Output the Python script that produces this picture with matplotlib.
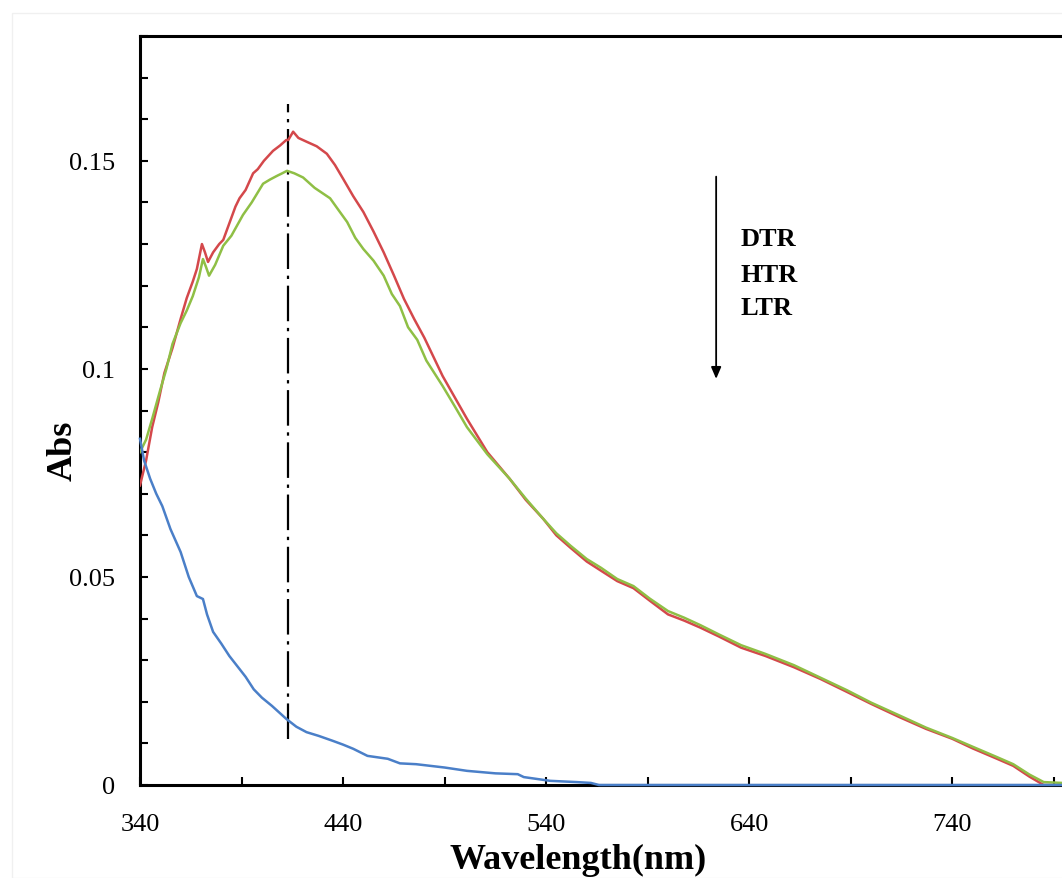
import numpy as np
import matplotlib
matplotlib.use("Agg")
import matplotlib.pyplot as plt
from matplotlib.ticker import MultipleLocator, FuncFormatter
from matplotlib.patches import Rectangle

plt.rcParams["font.family"] = ["Liberation Serif", "DejaVu Serif"]

wl_dtr = [340, 343, 346, 349, 352, 356, 360, 363, 366, 368, 370.5, 372, 373.5, 376, 379,
          381, 384, 387, 389, 392, 395.7, 398, 401, 405.5, 409, 412, 413, 415.4, 418, 422,
          427, 432, 436, 440, 445, 450, 455, 460, 465, 470, 475, 480, 489, 501, 511, 522,
          530, 538.5, 545, 552, 560, 567, 575, 583, 591, 600, 608, 616, 625, 636, 648, 662,
          675, 688, 700, 714, 727, 740, 750, 762, 770, 778, 785, 794]
abs_dtr = [0.072, 0.078, 0.086, 0.092, 0.099, 0.105, 0.112, 0.117, 0.121, 0.124, 0.130,
           0.128, 0.1257, 0.128, 0.130, 0.131, 0.135, 0.139, 0.141, 0.143, 0.147, 0.148,
           0.150, 0.1524, 0.1537, 0.155, 0.155, 0.157, 0.1555, 0.1546, 0.1535, 0.1517,
           0.149, 0.1457, 0.1415, 0.1377, 0.133, 0.128, 0.1225, 0.1168, 0.112, 0.1075,
           0.0983, 0.088, 0.080, 0.0736, 0.0685, 0.064, 0.060, 0.057, 0.0537, 0.0515,
           0.049, 0.0473, 0.0443, 0.041, 0.0395, 0.0378, 0.0357, 0.033, 0.031, 0.0283,
           0.0255, 0.0224, 0.0195, 0.0163, 0.0135, 0.0111, 0.0088, 0.0063, 0.0046, 0.002,
           0.0, 0.0]

wl_htr = [340, 343, 346, 350, 353, 356, 360, 363, 366, 369, 371, 372.5, 374, 377, 381,
          385, 390.7, 395, 400.6, 404, 407.5, 410, 412.4, 416, 420.3, 426, 433.6, 438, 442,
          446, 450, 455, 460, 464, 468, 472, 476.5, 481, 489, 495, 501, 511, 522, 530,
          538.5, 545, 552, 560, 567, 575, 583, 591, 600, 608, 616, 625, 636, 648, 662, 675,
          688, 700, 714, 727, 740, 750, 762, 770, 778, 785, 794]
abs_htr = [0.080, 0.083, 0.088, 0.095, 0.100, 0.106, 0.111, 0.114, 0.1175, 0.122, 0.1264,
           0.1245, 0.1224, 0.125, 0.1296, 0.132, 0.137, 0.140, 0.1445, 0.1455, 0.1464,
           0.147, 0.1476, 0.147, 0.146, 0.1435, 0.141, 0.138, 0.1353, 0.1315, 0.1288,
           0.126, 0.1224, 0.118, 0.1151, 0.110, 0.107, 0.102, 0.0959, 0.091, 0.086,
           0.0795, 0.0736, 0.0688, 0.064, 0.0605, 0.0575, 0.0543, 0.0522, 0.0495, 0.0478,
           0.0448, 0.0418, 0.0402, 0.0384, 0.0362, 0.0336, 0.0315, 0.0288, 0.0258, 0.0228,
           0.0198, 0.0167, 0.0138, 0.0113, 0.0092, 0.0067, 0.005, 0.0025, 0.0007, 0.0005]

wl_ltr = [340, 342, 345, 348, 351, 355, 360, 364, 368, 371, 373, 376, 380, 384, 388, 392,
          396, 400, 405, 412, 417, 422, 428, 435, 440, 445, 452, 462, 468, 476, 490, 501,
          515, 526, 529, 542, 555, 562, 566, 794]
abs_ltr = [0.0832, 0.078, 0.0736, 0.070, 0.067, 0.0615, 0.056, 0.050, 0.0454, 0.0447,
           0.041, 0.0368, 0.034, 0.031, 0.0285, 0.026, 0.023, 0.021, 0.019, 0.0159, 0.014,
           0.0127, 0.0118, 0.0106, 0.0097, 0.0087, 0.007, 0.0063, 0.0052, 0.005, 0.0042,
           0.0034, 0.0028, 0.0026, 0.0019, 0.001, 0.0007, 0.0005, 0.0, 0.0]

peak_wl = 413
peak_line = [0.011, 0.1637]
labels = ["DTR", "HTR", "LTR"]
label_y = [0.1313, 0.1228, 0.1147]
xticks = [340, 440, 540, 640, 740]
xminor = [390, 490, 590, 690, 790]

fig = plt.figure(figsize=(10.62, 8.79), dpi=100)
fig.patches.append(Rectangle((12 / 1062, 0), 1, 1 - 14 / 879, transform=fig.transFigure,
                             fill=False, edgecolor="#f0f0f0", lw=1))
ax = fig.add_axes([140 / 1062, 93 / 879, 922 / 1062, 749 / 879])

lw = 1.8
ax.plot(wl_ltr, abs_ltr, color="#4a7fc8", lw=lw, zorder=5, clip_on=False)
ax.plot(wl_dtr, abs_dtr, color="#d4484b", lw=lw, zorder=4)
ax.plot(wl_htr, abs_htr, color="#8fbf45", lw=lw, zorder=4)
ax.plot([peak_wl, peak_wl], peak_line, color="black", lw=1.6,
        ls=(0, (16, 3, 1.5, 3)), zorder=3)

# arrow + labels
ax.annotate("", xy=(623.7, 0.0976), xytext=(623.7, 0.1462),
            arrowprops=dict(arrowstyle="-|>,head_length=0.7,head_width=0.3",
                            color="black", lw=1.3, shrinkA=0, shrinkB=0))
for txt, y in zip(labels, label_y):
    ax.text(635.6, y, txt, fontsize=19, fontweight="bold", va="center", ha="left")

ax.set_xlim(340, 794)
ax.set_ylim(0, 0.18)
ax.set_xticks(xticks)
ax.set_xticks(xminor, minor=True)
ax.yaxis.set_major_locator(MultipleLocator(0.05))
ax.yaxis.set_minor_locator(MultipleLocator(0.01))
ax.yaxis.set_major_formatter(FuncFormatter(lambda v, p: f"{v:g}"))
ax.tick_params(which="both", direction="in", length=6, width=1.5, labelsize=19)
ax.tick_params(axis="y", which="major", pad=18)
ax.tick_params(axis="x", which="major", pad=20)
ax.tick_params(top=False, right=False)

ax.spines["right"].set_visible(False)
for s in ["left", "bottom", "top"]:
    ax.spines[s].set_linewidth(2.2)

ax.set_xlabel("Wavelength(nm)", fontsize=26, fontweight="bold")
ax.xaxis.set_label_coords(0.475, -0.078)
ax.set_ylabel("Abs", fontsize=26, fontweight="bold")
ax.yaxis.set_label_coords(-0.066, 0.447)

fig.savefig("out.png", dpi=100)
